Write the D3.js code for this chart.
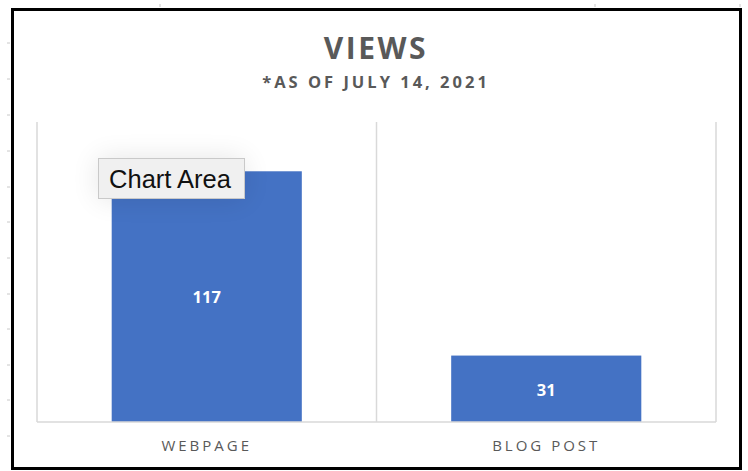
<!DOCTYPE html>
<html><head><meta charset="utf-8">
<script src="https://cdn.jsdelivr.net/npm/d3@7"></script>
<style>html,body{margin:0;padding:0;background:#fff;}svg{display:block;}</style>
</head><body>
<svg id="c" width="748" height="471"></svg>
<script>
const categories = ["WEBPAGE", "BLOG POST"];
const views = [117, 31];
const yMax = 140;
const titleText = "VIEWS";
const subtitleText = "*AS OF JULY 14, 2021";
const tooltipText = "Chart Area";

const svg = d3.select("#c");
const plot = {left: 37, right: 716, top: 122, bottom: 422};

// faint spreadsheet grid ticks outside the border
const sheetRows = [43, 79, 115, 151, 187, 222, 258, 294, 329, 365, 400, 436];
svg.selectAll("line.rowtick").data(sheetRows).enter().append("line")
  .attr("x1", 7).attr("x2", 10).attr("y1", d => d).attr("y2", d => d)
  .attr("stroke", "#c8c8c8").attr("stroke-width", 1);
const sheetCols = [160, 595, 740];
svg.selectAll("line.coltick").data(sheetCols).enter().append("line")
  .attr("x1", d => d).attr("x2", d => d).attr("y1", 4).attr("y2", 7)
  .attr("stroke", "#c8c8c8").attr("stroke-width", 1);

// outer border
svg.append("rect").attr("x", 12.5).attr("y", 9.5).attr("width", 728).attr("height", 459)
  .attr("fill", "#fff").attr("stroke", "#000").attr("stroke-width", 3);

const x = d3.scaleBand().domain(categories).range([plot.left, plot.right])
  .paddingInner(0.44).paddingOuter(0.22);
const y = d3.scaleLinear().domain([0, yMax]).range([plot.bottom, plot.top]);

// vertical category gridlines
const gridX = [plot.left, (plot.left + plot.right) / 2, plot.right];
svg.selectAll("line.vg").data(gridX).enter().append("line")
  .attr("x1", d => d).attr("x2", d => d).attr("y1", plot.top).attr("y2", plot.bottom)
  .attr("stroke", "#d9d9d9").attr("stroke-width", 1.5);

// bars
svg.selectAll("rect.bar").data(views).enter().append("rect")
  .attr("x", (d, i) => x(categories[i])).attr("width", x.bandwidth())
  .attr("y", d => y(d)).attr("height", d => y(0) - y(d))
  .attr("fill", "#4472C4");

// baseline
svg.append("line").attr("x1", plot.left).attr("x2", plot.right)
  .attr("y1", plot.bottom).attr("y2", plot.bottom)
  .attr("stroke", "#d9d9d9").attr("stroke-width", 1.5);

// data labels
svg.selectAll("text.lbl").data(views).enter().append("text")
  .attr("x", (d, i) => x(categories[i]) + x.bandwidth() / 2)
  .attr("y", d => (y(d) + y(0)) / 2 + 1)
  .attr("dy", "0.35em").attr("text-anchor", "middle")
  .attr("font-family", "'Open Sans', sans-serif").attr("font-weight", "bold")
  .attr("font-size", 16.5).attr("fill", "#fff")
  .text(d => d);

// category axis
const xAxis = svg.append("g").attr("transform", `translate(0,${plot.bottom})`)
  .call(d3.axisBottom(x).tickSize(0).tickPadding(18));
xAxis.select(".domain").remove();
xAxis.selectAll("text")
  .attr("font-family", "'Open Sans', sans-serif").attr("font-size", 15)
  .attr("fill", "#595959").attr("letter-spacing", "3px");

// titles
svg.append("text").attr("x", 376).attr("y", 59).attr("text-anchor", "middle")
  .attr("font-family", "'Open Sans', sans-serif").attr("font-weight", "bold")
  .attr("font-size", 30).attr("letter-spacing", "2.5px").attr("fill", "#595959")
  .text(titleText);
svg.append("text").attr("x", 376).attr("y", 88).attr("text-anchor", "middle")
  .attr("font-family", "'Open Sans', sans-serif").attr("font-weight", "bold")
  .attr("font-size", 16.5).attr("letter-spacing", "3px").attr("fill", "#595959")
  .text(subtitleText);

// tooltip
const defs = svg.append("defs");
const f = defs.append("filter").attr("id", "glow").attr("x", "-60%").attr("y", "-120%")
  .attr("width", "220%").attr("height", "340%");
f.append("feGaussianBlur").attr("stdDeviation", 14);
svg.append("rect").attr("x", 98).attr("y", 158).attr("width", 146).attr("height", 41)
  .attr("fill", "#000").attr("opacity", 0.1).attr("filter", "url(#glow)");
svg.append("rect").attr("x", 98.5).attr("y", 158.5).attr("width", 146).attr("height", 40)
  .attr("fill", "#f0f0f0").attr("stroke", "#c9c9c9").attr("stroke-width", 1);
svg.append("text").attr("x", 170).attr("y", 179).attr("dy", "0.35em").attr("text-anchor", "middle")
  .attr("font-family", "'Liberation Sans', Arial, sans-serif").attr("font-size", 25.5)
  .attr("fill", "#111").text(tooltipText);
</script>
</body></html>
